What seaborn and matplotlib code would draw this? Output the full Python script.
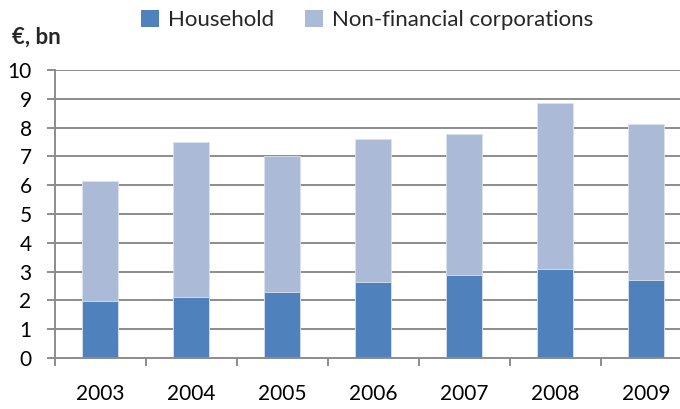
import matplotlib
matplotlib.use("Agg")
import matplotlib.pyplot as plt
import seaborn as sns
import pandas as pd
from matplotlib.patches import Patch

years = ["2003", "2004", "2005", "2006", "2007", "2008", "2009"]
household = [1.97, 2.11, 2.29, 2.64, 2.88, 3.09, 2.72]
non_financial = [4.19, 5.38, 4.73, 4.96, 4.90, 5.75, 5.39]
y_ticks = [0, 1, 2, 3, 4, 5, 6, 7, 8, 9, 10]

c_house = "#4F81BD"
c_nonfin = "#AABAD7"
grid_c = "#8C8C8C"

sns.set_style("white")
plt.rcParams["font.family"] = ["Lato", "DejaVu Sans"]

df = pd.DataFrame({"year": years, "household": household, "non_financial": non_financial})
df["total"] = df["household"] + df["non_financial"]

fig = plt.figure(figsize=(6.8, 4.09), dpi=100)
ax = fig.add_axes([54.5 / 680, 51 / 409, 637 / 680, 288 / 409])

sns.barplot(data=df, x="year", y="total", color=c_nonfin, width=0.4, ax=ax,
            saturation=1, edgecolor="#DCE3EF", linewidth=0.6, zorder=3)
sns.barplot(data=df, x="year", y="household", color=c_house, width=0.4, ax=ax,
            saturation=1, edgecolor="#DCE3EF", linewidth=0.6, zorder=4)

ax.set_xlim(-0.5, 6.5)
ax.set_ylim(0, 10)
ax.set_yticks(y_ticks)
ax.set_yticklabels([str(v) for v in y_ticks])
ax.set_xlabel("")
ax.set_ylabel("")

for v in y_ticks[1:]:
    ax.axhline(v, color=grid_c, linewidth=1.4, zorder=1)

for s in ["top", "right"]:
    ax.spines[s].set_visible(False)
for s in ["left", "bottom"]:
    ax.spines[s].set_color(grid_c)
    ax.spines[s].set_linewidth(1.4)
    ax.spines[s].set_zorder(5)

ax.set_xticks([i - 0.5 for i in range(len(years) + 1)], minor=True)
ax.tick_params(axis="x", which="major", length=0, pad=19, labelsize=15, colors="black")
ax.tick_params(axis="x", which="minor", length=6, width=1.4, color=grid_c, direction="out", bottom=True)
ax.tick_params(axis="y", which="major", length=6, width=1.4, color=grid_c, direction="out",
               pad=10.5, labelsize=15, labelcolor="black", left=True)

fig.text(12 / 680, 1 - 37 / 409, "€, bn", fontsize=16, fontweight="bold", va="center", ha="left")

handles = [Patch(facecolor=c_house, edgecolor="none"), Patch(facecolor=c_nonfin, edgecolor="none")]
fig.legend(handles, ["Household", "Non-financial corporations"], loc="center",
           bbox_to_anchor=(367 / 680, 1 - 20 / 409), ncol=2, frameon=False, fontsize=16,
           handlelength=0.8, handleheight=0.8, handletextpad=0.4, columnspacing=1.4)

fig.savefig("out.png", dpi=100)
